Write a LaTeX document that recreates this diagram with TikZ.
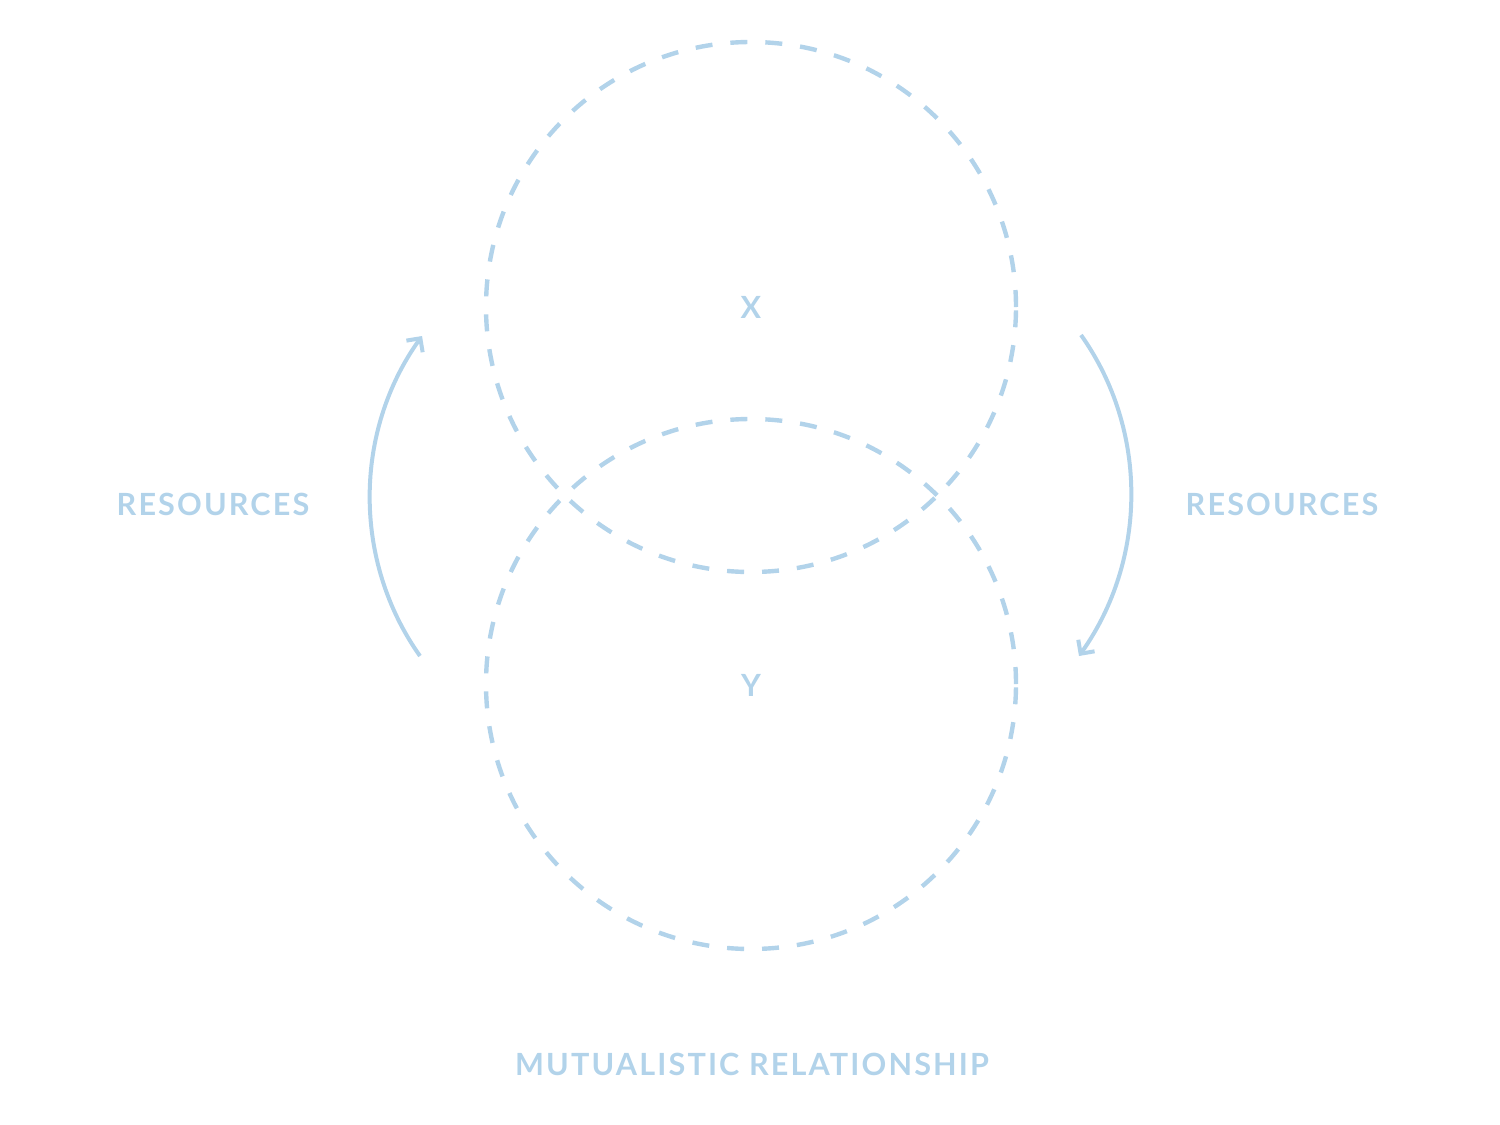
\documentclass[tikz,border=0pt]{standalone}
\usepackage{fontspec}
\setmainfont{Lato}[LetterSpace=7]
\usetikzlibrary{arrows.meta}
\definecolor{pale}{RGB}{178,211,234}
\tikzset{
  ring/.style={draw=pale, line width=2.2pt, dash pattern=on 8.5pt off 9pt},
  flow/.style={draw=pale, line width=2pt, -{Straight Barb[length=5pt,width=10pt,line width=2pt]}},
  lbl/.style={text=pale, font=\fontsize{15.3}{18}\selectfont\bfseries, inner sep=0pt}
}
\begin{document}
\begin{tikzpicture}[x=0.5pt,y=-0.5pt]
\useasboundingbox (0,0) rectangle (1500,1125);
\node[circle, ring, minimum size=265pt, inner sep=0pt] (X) at (751,307) {};
\node[circle, ring, minimum size=265pt, inner sep=0pt] (Y) at (751,684) {};
\node[lbl] (xl) at (751,307) {X};
\node[lbl] (yl) at (751,685) {Y};
\node[lbl] (rl) at (213,504) {RESOURCES};
\node[lbl] (rr) at (1282,504) {RESOURCES};
\node[lbl] (mr) at (752,1064) {MUTUALISTIC RELATIONSHIP};
\coordinate (la) at (420,656);
\coordinate (lb) at (422,336);
\coordinate (ra) at (1081,335);
\coordinate (rb) at (1079,656);
\draw[flow] (la) .. controls (352,560) and (354,431) .. (lb);
\draw[flow] (ra) .. controls (1149,431) and (1147,560) .. (rb);
\end{tikzpicture}
\end{document}
